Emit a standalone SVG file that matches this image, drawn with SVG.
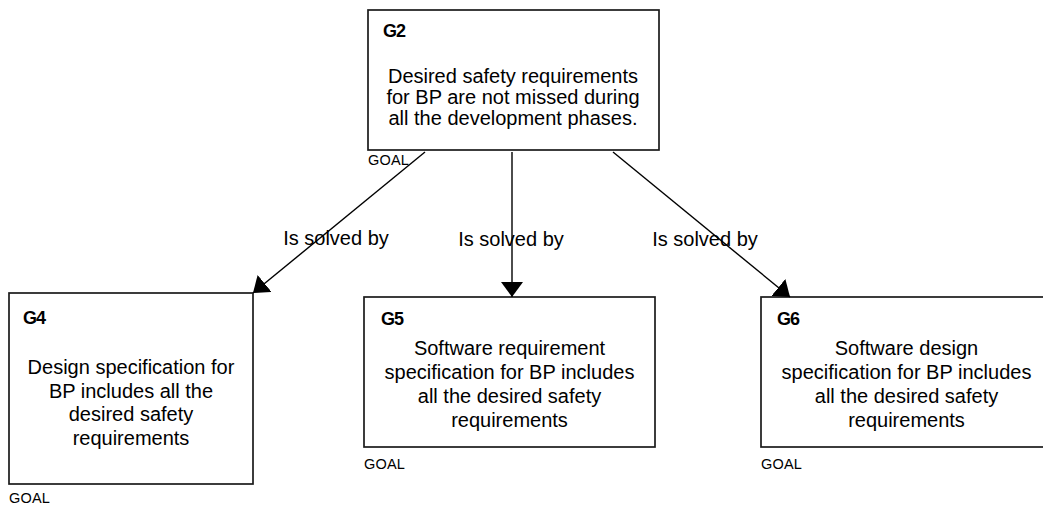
<svg xmlns="http://www.w3.org/2000/svg" width="1043" height="505" viewBox="0 0 1043 505">
  <style>
    .box { fill: #ffffff; stroke: #1a1a1a; stroke-width: 1.7; }
    .id { font-family: "Liberation Sans", Arial, sans-serif; font-size: 18px; font-weight: bold; fill: #000; letter-spacing: -1px; }
    .body { font-family: "Liberation Sans", Arial, sans-serif; font-size: 20px; fill: #000; text-anchor: middle; }
    .tag { font-family: "Liberation Sans", Arial, sans-serif; font-size: 14.5px; fill: #000; letter-spacing: 0.2px; }
    .lbl { font-family: "Liberation Sans", Arial, sans-serif; font-size: 20px; fill: #000; text-anchor: middle; }
    .edge { stroke: #000; stroke-width: 1.4; fill: none; marker-end: url(#head); }
  </style>
  <defs>
    <marker id="head" markerUnits="userSpaceOnUse" viewBox="0 0 15 22" refX="15" refY="11" markerWidth="15" markerHeight="22" orient="auto">
      <path d="M0,0 L15,11 L0,22 Z" fill="#000"/>
    </marker>
  </defs>

  <rect width="1043" height="505" fill="#ffffff"/>

  <!-- goal G2 -->
  <g id="G2">
    <rect class="box" x="368" y="10" width="291" height="140"/>
    <text class="id" x="383" y="37">G2</text>
    <text class="body" x="513" y="83">Desired safety requirements</text>
    <text class="body" x="513" y="104">for BP are not missed during</text>
    <text class="body" x="513" y="125">all the development phases.</text>
    <text class="tag" x="368" y="165">GOAL</text>
  </g>

  <!-- goal G4 -->
  <g id="G4">
    <rect class="box" x="9" y="293" width="244" height="191"/>
    <text class="id" x="23" y="324">G4</text>
    <text class="body" x="131" y="374">Design specification for</text>
    <text class="body" x="131" y="398">BP includes all the</text>
    <text class="body" x="131" y="421">desired safety</text>
    <text class="body" x="131" y="445">requirements</text>
    <text class="tag" x="9" y="503">GOAL</text>
  </g>

  <!-- goal G5 -->
  <g id="G5">
    <rect class="box" x="364" y="297" width="291" height="150"/>
    <text class="id" x="381" y="325">G5</text>
    <text class="body" x="509.5" y="355">Software requirement</text>
    <text class="body" x="509.5" y="379">specification for BP includes</text>
    <text class="body" x="509.5" y="403">all the desired safety</text>
    <text class="body" x="509.5" y="427">requirements</text>
    <text class="tag" x="364" y="469">GOAL</text>
  </g>

  <!-- goal G6 -->
  <g id="G6">
    <rect class="box" x="761" y="297" width="291" height="150"/>
    <text class="id" x="777" y="325">G6</text>
    <text class="body" x="906.5" y="355">Software design</text>
    <text class="body" x="906.5" y="379">specification for BP includes</text>
    <text class="body" x="906.5" y="403">all the desired safety</text>
    <text class="body" x="906.5" y="427">requirements</text>
    <text class="tag" x="761" y="469">GOAL</text>
  </g>

  <!-- solved-by connectors -->
  <g id="connectors">
    <line class="edge" x1="425" y1="152" x2="253" y2="293"/>
    <line class="edge" x1="512" y1="152" x2="512" y2="297"/>
    <line class="edge" x1="613" y1="152" x2="790" y2="297"/>
    <text class="lbl" x="336" y="245">Is solved by</text>
    <text class="lbl" x="511" y="246">Is solved by</text>
    <text class="lbl" x="705" y="246">Is solved by</text>
  </g>
</svg>
